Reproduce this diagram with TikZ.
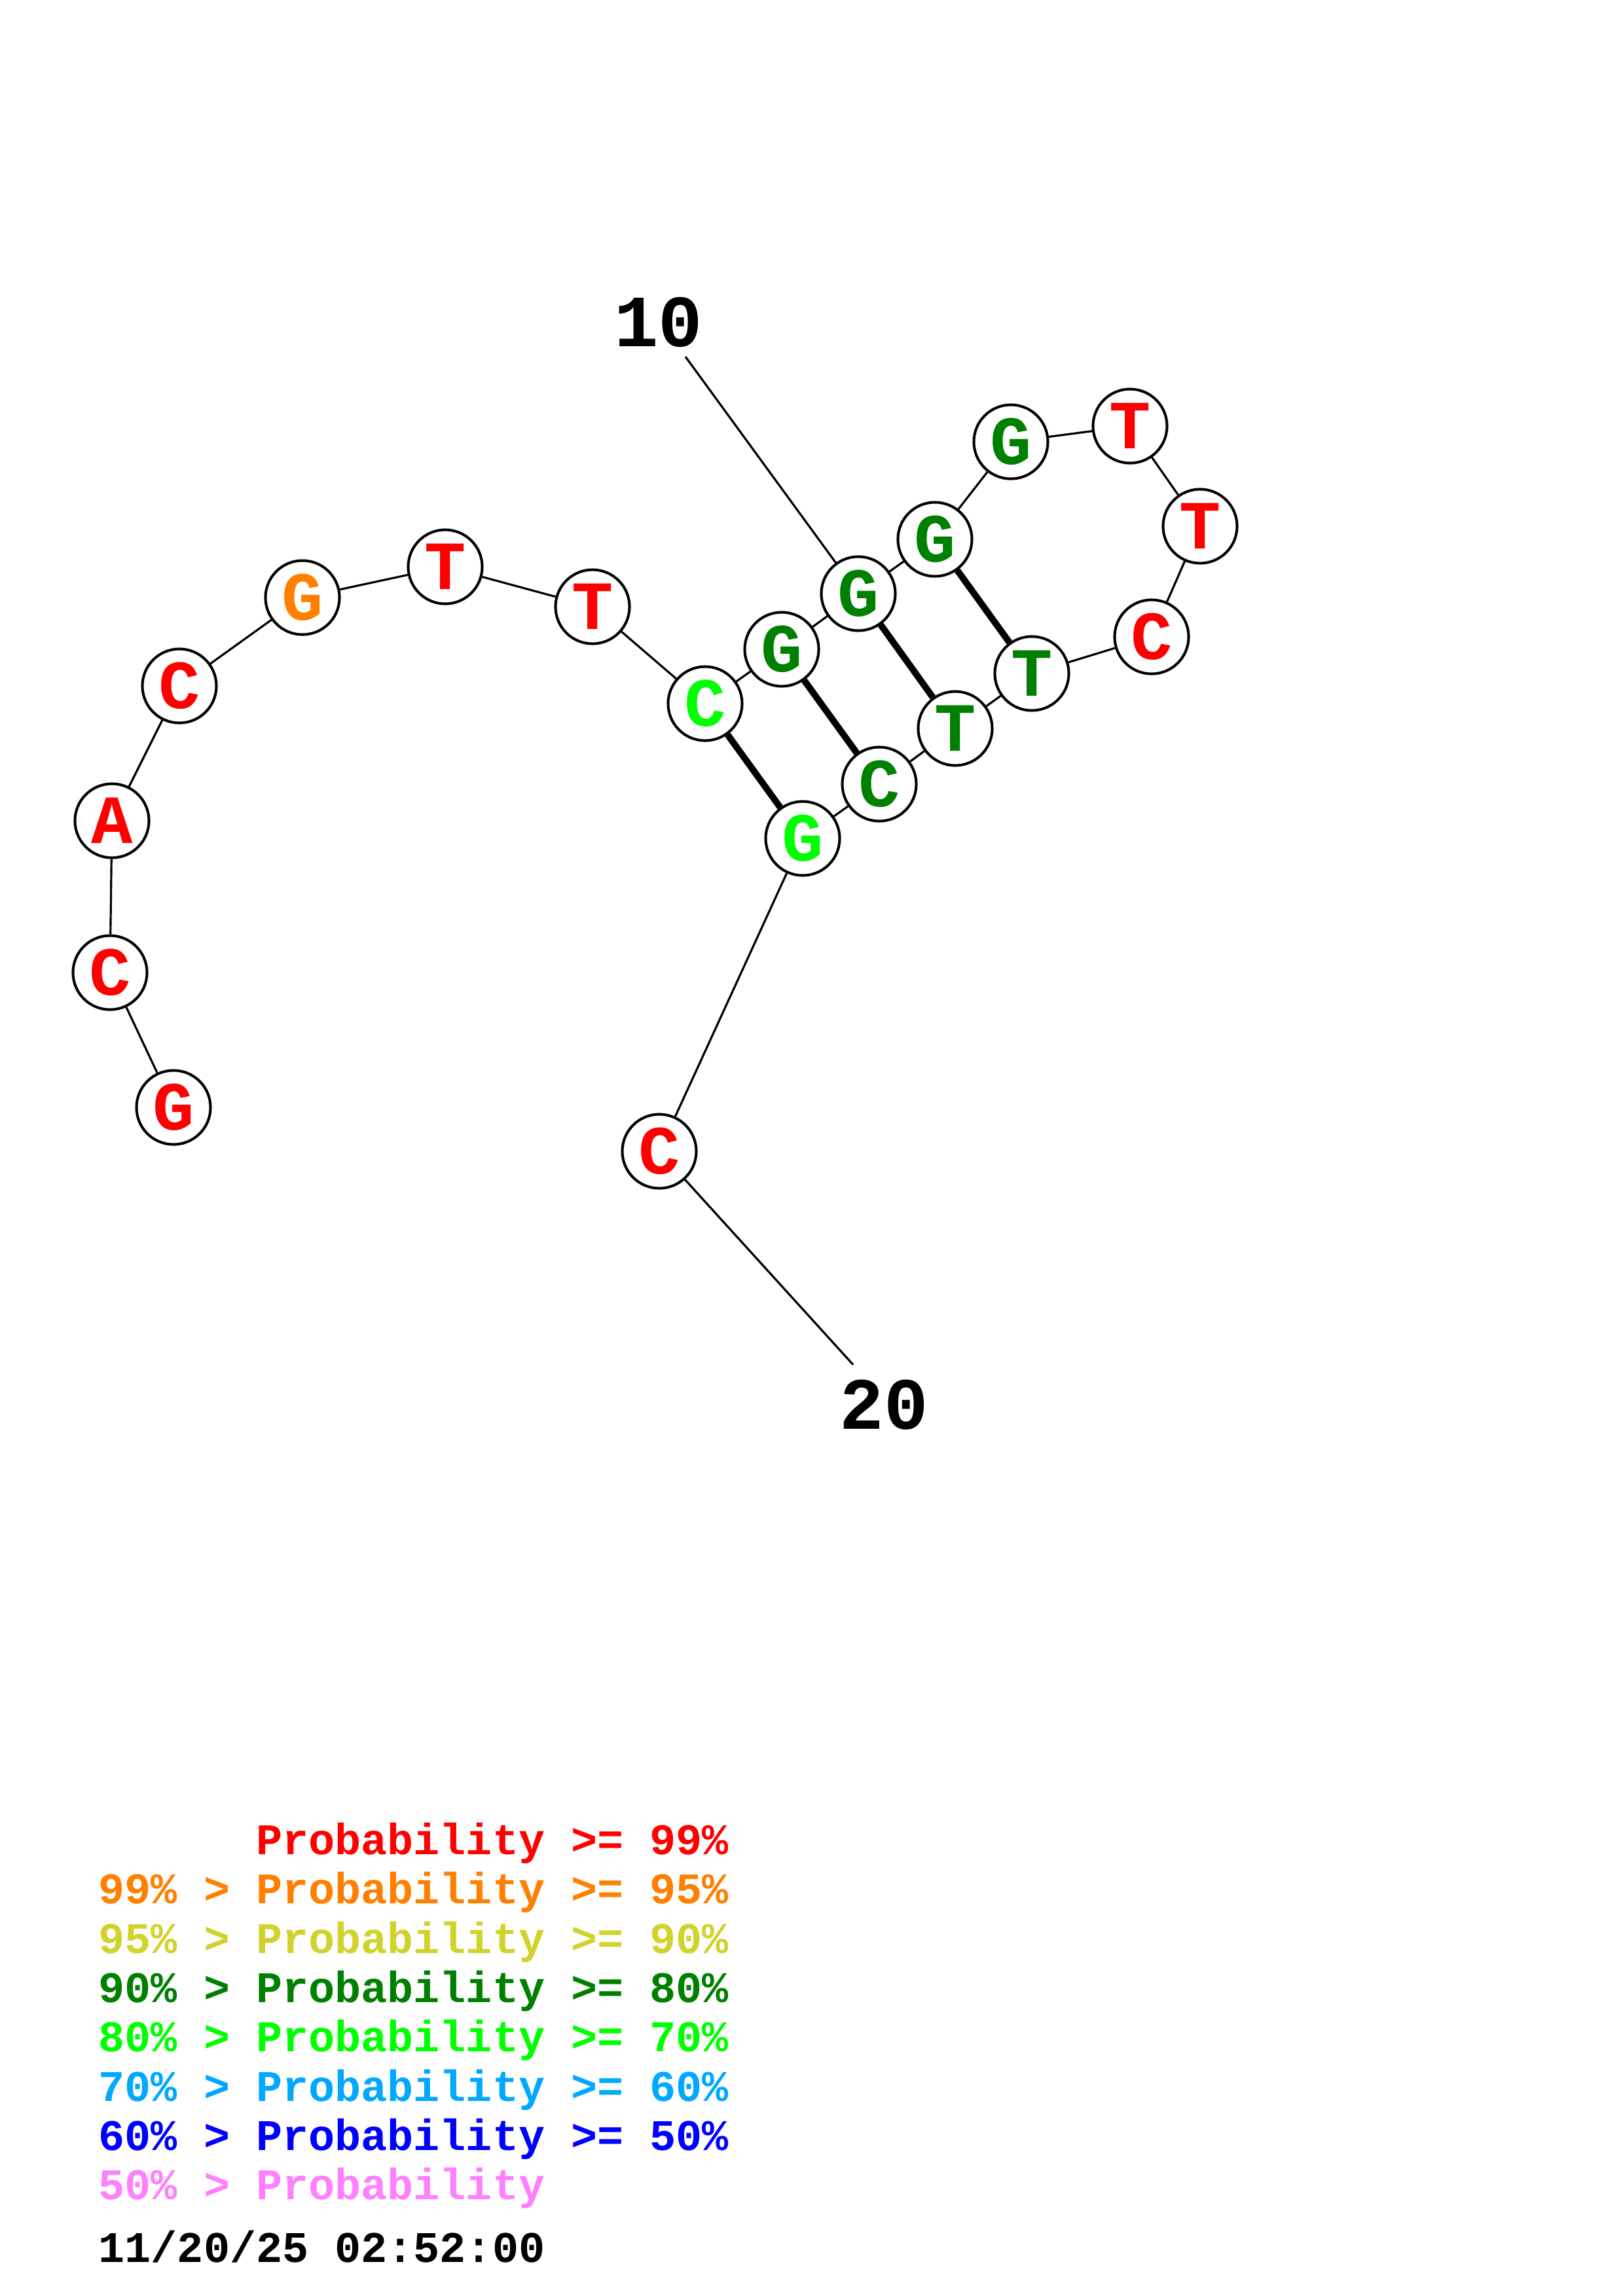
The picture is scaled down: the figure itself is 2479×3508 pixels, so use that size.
\documentclass[tikz,border=0pt]{standalone}
\usepackage{fontspec}
\setmonofont{Liberation Mono}
\definecolor{pRed}{HTML}{FF0000}
\definecolor{pOrange}{HTML}{FF8000}
\definecolor{pYellow}{HTML}{D2D22D}
\definecolor{pDkGreen}{HTML}{008000}
\definecolor{pLime}{HTML}{00FF00}
\definecolor{pSky}{HTML}{00A8FF}
\definecolor{pBlue}{HTML}{0000FF}
\definecolor{pPink}{HTML}{FF80FF}
\begin{document}
\begin{tikzpicture}[x=0.01cm,y=-0.01cm,
  nt/.style={circle,draw=black,line width=1.15pt,fill=white,minimum size=1.13cm,inner sep=0pt,
    font=\ttfamily\bfseries\fontsize{30}{30}\selectfont},
  bb/.style={line width=0.9pt},
  bp/.style={line width=2.85pt},
  lab/.style={inner sep=0pt,font=\ttfamily\bfseries\fontsize{32}{32}\selectfont},
  leg/.style={anchor=base west,inner sep=0pt,font=\ttfamily\bfseries\fontsize{19}{19}\selectfont}]
\useasboundingbox (0,0) rectangle (2479,3508);
% nucleotides
\node[nt,text=pRed]     (n1)  at (265,1692) {G};
\node[nt,text=pRed]     (n2)  at (168,1486) {C};
\node[nt,text=pRed]     (n3)  at (171,1254) {A};
\node[nt,text=pRed]     (n4)  at (274,1048) {C};
\node[nt,text=pOrange]  (n5)  at (462,913)  {G};
\node[nt,text=pRed]     (n6)  at (680,866)  {T};
\node[nt,text=pRed]     (n7)  at (905,927)  {T};
\node[nt,text=pLime]    (n8)  at (1077,1075) {C};
\node[nt,text=pDkGreen] (n9)  at (1194,992) {G};
\node[nt,text=pDkGreen] (n10) at (1311,907) {G};
\node[nt,text=pDkGreen] (n11) at (1428,824) {G};
\node[nt,text=pDkGreen] (n12) at (1544,675) {G};
\node[nt,text=pRed]     (n13) at (1726,651) {T};
\node[nt,text=pRed]     (n14) at (1833,804) {T};
\node[nt,text=pRed]     (n15) at (1759,973) {C};
\node[nt,text=pDkGreen] (n16) at (1576,1029) {T};
\node[nt,text=pDkGreen] (n17) at (1459,1113) {T};
\node[nt,text=pDkGreen] (n18) at (1343,1198) {C};
\node[nt,text=pLime]    (n19) at (1226,1281) {G};
\node[nt,text=pRed]     (n20) at (1007,1759) {C};
% backbone
\foreach \a/\b in {1/2,2/3,3/4,4/5,5/6,6/7,7/8,8/9,9/10,10/11,11/12,12/13,13/14,14/15,15/16,16/17,17/18,18/19,19/20}
  \draw[bb] (n\a) -- (n\b);
% base pairs
\draw[bp] (n8) -- (n19);
\draw[bp] (n9) -- (n18);
\draw[bp] (n10) -- (n17);
\draw[bp] (n11) -- (n16);
% position labels
\node[lab] (t10) at (1006,492) {10};
\node[lab] (t20) at (1350,2146) {20};
\coordinate (c10) at (1047,545);
\coordinate (c20) at (1303,2085);
\draw[bb] (c10) -- (n10);
\draw[bb] (n20) -- (c20);
% legend
\node[leg,text=pRed]     (g1) at (150,2833) {\phantom{99\% > }Probability >= 99\%};
\node[leg,text=pOrange]  (g2) at (150,2908) {99\% > Probability >= 95\%};
\node[leg,text=pYellow]  (g3) at (150,2984) {95\% > Probability >= 90\%};
\node[leg,text=pDkGreen] (g4) at (150,3059) {90\% > Probability >= 80\%};
\node[leg,text=pLime]    (g5) at (150,3134) {80\% > Probability >= 70\%};
\node[leg,text=pSky]     (g6) at (150,3210) {70\% > Probability >= 60\%};
\node[leg,text=pBlue]    (g7) at (150,3285) {60\% > Probability >= 50\%};
\node[leg,text=pPink]    (g8) at (150,3360) {50\% > Probability};
\node[leg,text=black]    (g9) at (150,3456) {11/20/25 02:52:00};
\end{tikzpicture}
\end{document}
